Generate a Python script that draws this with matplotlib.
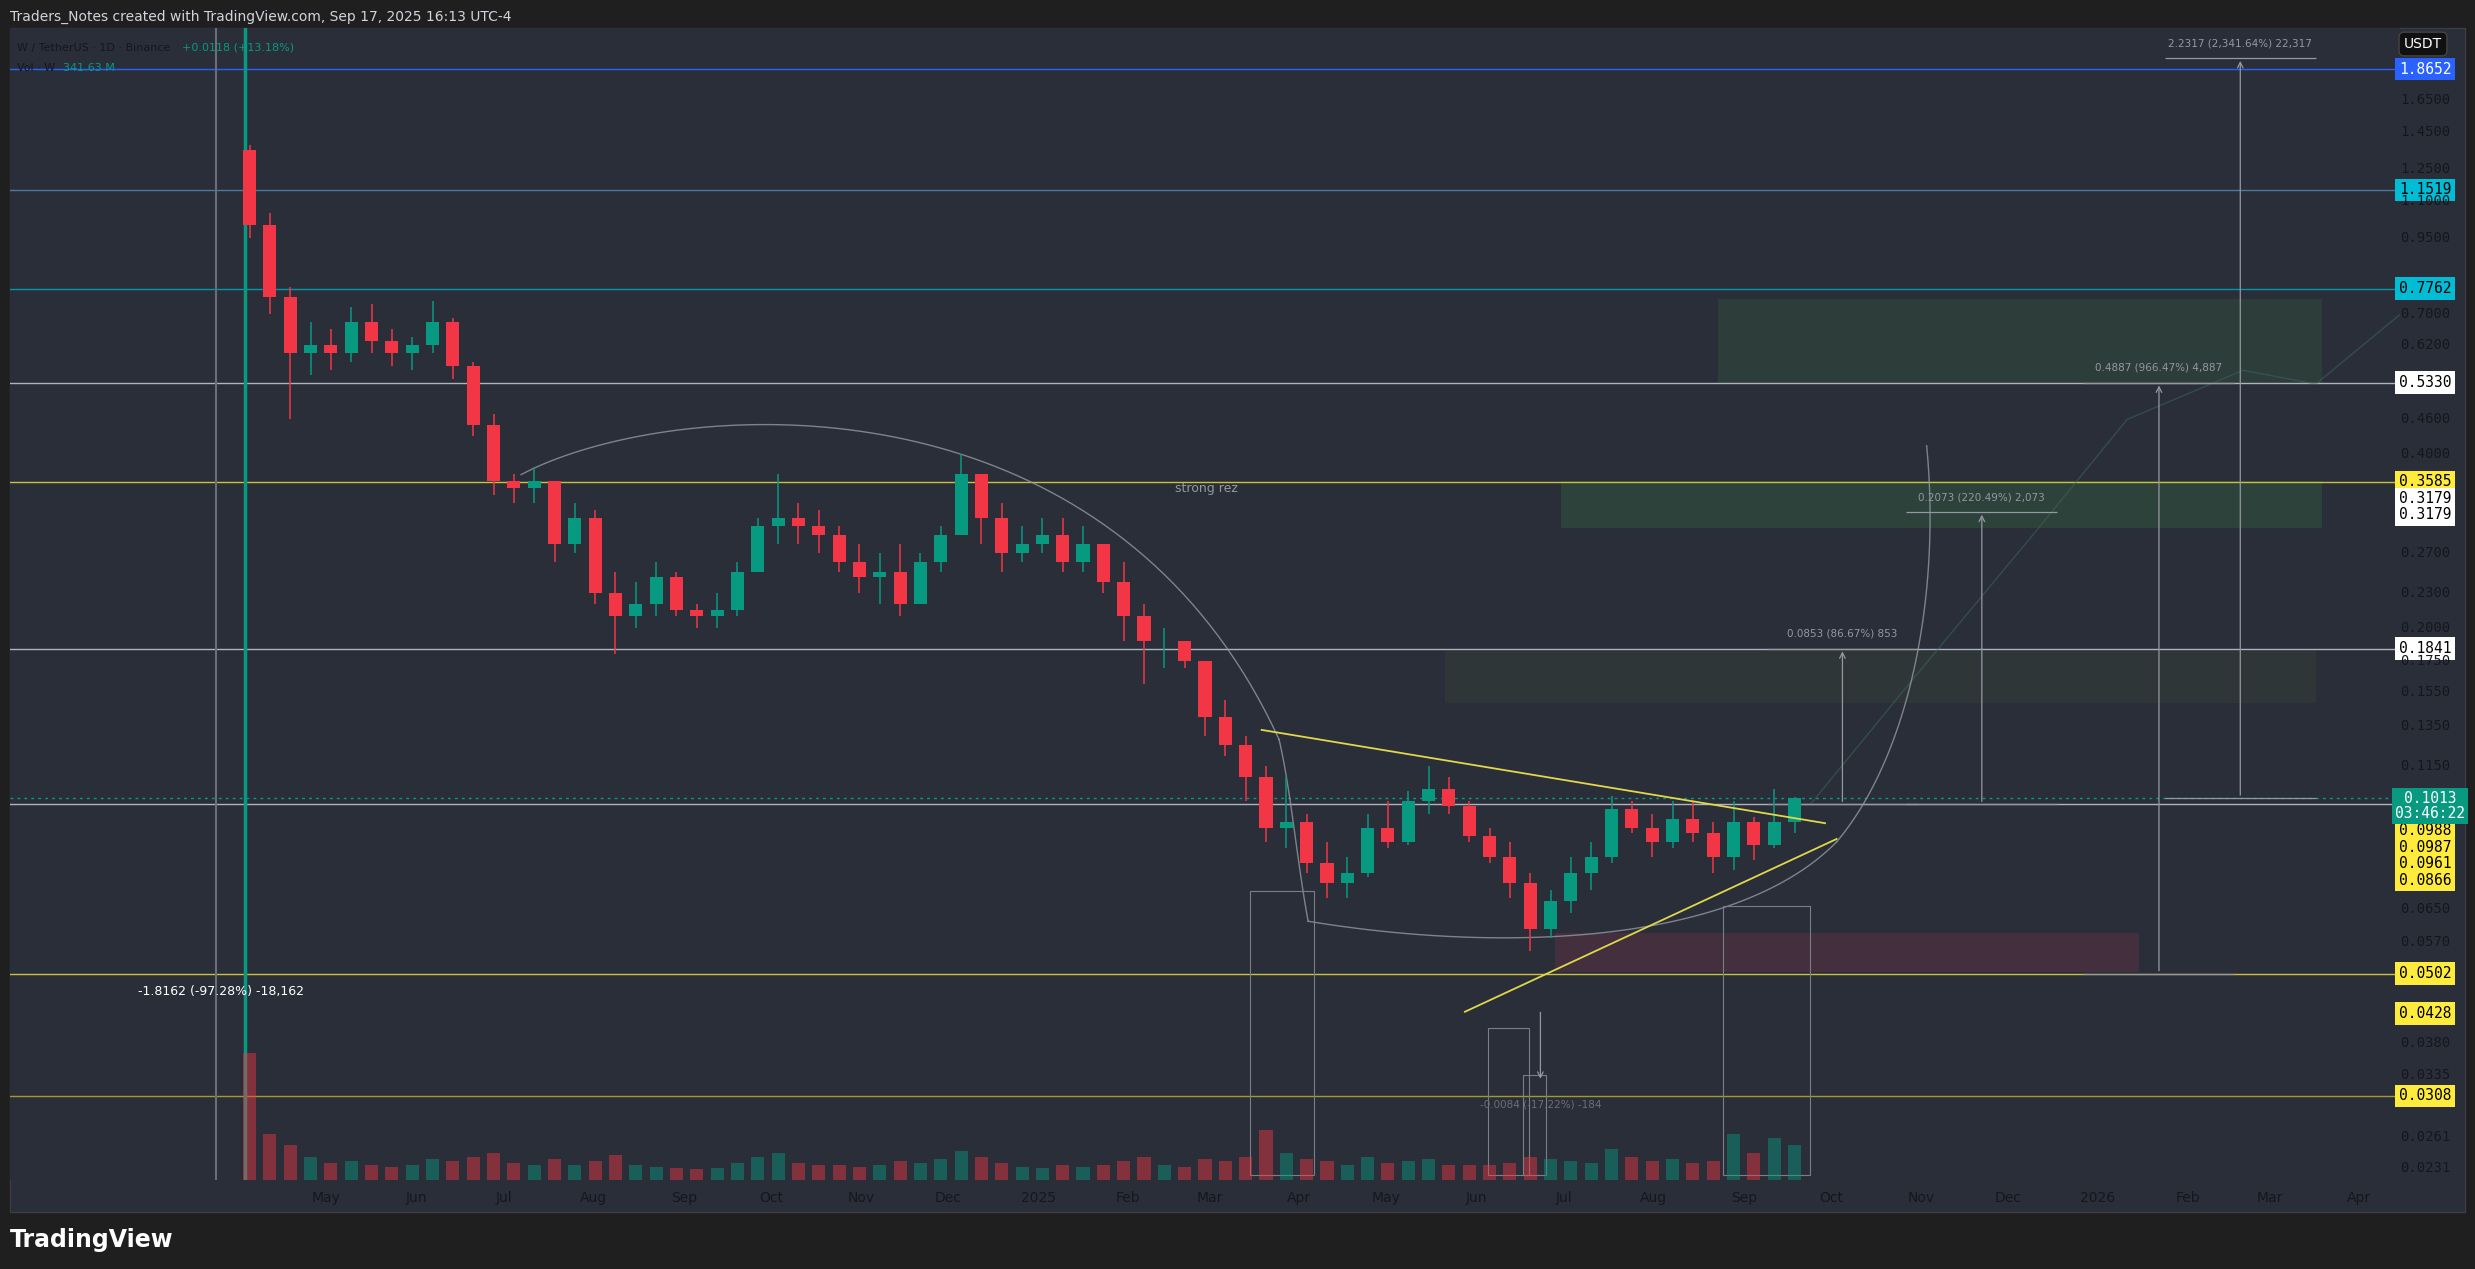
import numpy as np
import pandas as pd
import matplotlib
matplotlib.use("Agg")
import matplotlib.pyplot as plt
from matplotlib.patches import Rectangle

# weekly candles, weeks starting Mon 2024-04-01 (day 0)
w_high = [1.38, 1.05, 0.78, 0.68, 0.66, 0.72, 0.73, 0.66, 0.64, 0.74, 0.69, 0.58, 0.47, 0.37, 0.38,
          0.36, 0.33, 0.32, 0.25, 0.24, 0.26, 0.25, 0.22, 0.23, 0.26, 0.31, 0.37, 0.33, 0.32, 0.30,
          0.28, 0.27, 0.28, 0.27, 0.30, 0.40, 0.37, 0.33, 0.30, 0.31, 0.31, 0.30, 0.28, 0.26, 0.22,
          0.20, 0.19, 0.175, 0.15, 0.13, 0.115, 0.11, 0.095, 0.085, 0.08, 0.095, 0.10, 0.104, 0.115,
          0.11, 0.10, 0.09, 0.085, 0.075, 0.07, 0.08, 0.085, 0.102, 0.10, 0.095, 0.10, 0.10, 0.092,
          0.10, 0.094, 0.105, 0.1018]
w_low = [0.95, 0.70, 0.46, 0.55, 0.56, 0.58, 0.60, 0.57, 0.56, 0.60, 0.54, 0.43, 0.34, 0.33, 0.33,
         0.26, 0.27, 0.22, 0.18, 0.20, 0.21, 0.21, 0.20, 0.20, 0.21, 0.25, 0.28, 0.28, 0.27, 0.25,
         0.23, 0.22, 0.21, 0.22, 0.25, 0.29, 0.28, 0.25, 0.26, 0.27, 0.25, 0.25, 0.23, 0.19, 0.16,
         0.17, 0.17, 0.13, 0.12, 0.10, 0.085, 0.083, 0.075, 0.068, 0.068, 0.074, 0.083, 0.084, 0.095,
         0.095, 0.085, 0.078, 0.068, 0.055, 0.058, 0.064, 0.070, 0.078, 0.088, 0.08, 0.083, 0.085, 0.075,
         0.076, 0.079, 0.083, 0.088]
w_close = [1.00, 0.75, 0.60, 0.62, 0.60, 0.68, 0.63, 0.60, 0.62, 0.68, 0.57, 0.45, 0.36, 0.35, 0.36,
           0.28, 0.31, 0.23, 0.21, 0.22, 0.245, 0.215, 0.21, 0.215, 0.25, 0.30, 0.31, 0.30, 0.29, 0.26,
           0.245, 0.25, 0.22, 0.26, 0.29, 0.37, 0.31, 0.27, 0.28, 0.29, 0.26, 0.28, 0.24, 0.21, 0.19,
           0.19, 0.175, 0.14, 0.125, 0.11, 0.09, 0.092, 0.078, 0.072, 0.075, 0.09, 0.085, 0.10, 0.105,
           0.098, 0.087, 0.08, 0.072, 0.06, 0.067, 0.075, 0.08, 0.097, 0.09, 0.085, 0.093, 0.088, 0.08,
           0.092, 0.084, 0.092, 0.1013]
first_open = 1.35
w_vol = [330, 120, 90, 60, 45, 50, 40, 35, 38, 55, 50, 60, 70, 45, 40, 55, 40, 50, 65, 40, 35, 30,
         28, 30, 45, 60, 70, 45, 40, 38, 35, 40, 50, 45, 55, 75, 60, 45, 35, 30, 40, 35, 38, 50, 60,
         40, 35, 55, 50, 60, 130, 70, 55, 50, 40, 60, 45, 50, 55, 40, 38, 40, 45, 60, 55, 50, 45, 80,
         60, 50, 55, 45, 50, 120, 70, 110, 90]

# horizontal levels (price, line colour, label bg, label fg)
levels = [(1.8652, "#2962ff", "#2962ff", "white"),
          (1.1519, "#4a7a9a", "#00bcd4", "black"),
          (0.7762, "#0097a7", "#00bcd4", "black"),
          (0.5330, "#b0b3bd", "white", "black"),
          (0.3585, "#c9c23a", "#ffeb3b", "black"),
          (0.1841, "#b0b3bd", "white", "black"),
          (0.0502, "#c9c23a", "#ffeb3b", "black"),
          (0.0428, None, "#ffeb3b", "black"),
          (0.0308, "#a39a2a", "#ffeb3b", "black")]
# stacked labels: (text, anchor price, pixel offset below anchor, bg)
stacked = [("0.3179", 0.3585, 17, "white"), ("0.3179", 0.3585, 33, "white"),
           ("0.0988", 0.1013, 32, "#ffeb3b"), ("0.0987", 0.1013, 49, "#ffeb3b"),
           ("0.0961", 0.1013, 65, "#ffeb3b"), ("0.0866", 0.1013, 82, "#ffeb3b")]
level_0988 = 0.0988
axis_ticks = [1.65, 1.45, 1.25, 1.10, 0.95, 0.70, 0.62, 0.46, 0.40, 0.27, 0.23, 0.20, 0.175,
              0.155, 0.135, 0.115, 0.065, 0.057, 0.038, 0.0335, 0.0261, 0.0231]
last_price = 0.1013

BG = "#2a2e39"
UP, DN = "#089981", "#f23645"
PX = 72 / 100  # points per pixel

fig = plt.figure(figsize=(24.75, 12.69), dpi=100, facecolor="#1f1f1f")
fig.patches.append(Rectangle((10 / 2475, 1 - 1212 / 1269), 2455 / 2475, 1184 / 1269,
                             transform=fig.transFigure, facecolor=BG, edgecolor="#3a3d45", zorder=-1))
ax = fig.add_axes([10 / 2475, 1 - 1180 / 1269, 2390 / 2475, 1152 / 1269])
ax.set_facecolor(BG)
ax.set_yscale("log")
ax.set_ylim(0.0220, 2.20)
ax.set_xlim(-79, 744)
for s in ax.spines.values():
    s.set_visible(False)

# volume
vax = fig.add_axes(ax.get_position(), sharex=ax)
vax.patch.set_alpha(0)
vax.axis("off")
days = np.arange(len(w_close)) * 7 + 3.5
vax.set_ylim(0, max(w_vol) / 0.11)
opens = [first_open] + w_close[:-1]
vcols = [UP if c >= o else DN for o, c in zip(opens, w_close)]
vax.bar(days, w_vol, width=4.5, color=vcols, alpha=0.45)

# candles
for d, o, h, l, c, col in zip(days, opens, w_high, w_low, w_close, vcols):
    ax.vlines(d, l, h, color=col, lw=1.1, zorder=4)
    ax.bar(d, max(c, o) - min(c, o), bottom=min(c, o), width=4.5, color=col, zorder=5)

# levels
tr = ax.get_yaxis_transform()
lab = dict(ha="center", va="center", fontsize=10.5, family="DejaVu Sans Mono", annotation_clip=False)
for p, lc, bg, fg in levels:
    if lc:
        ax.axhline(p, color=lc, lw=1, zorder=2)
    ax.annotate(f"{p:.4f}", (1.0105, p), xycoords=tr, color=fg,
                bbox=dict(boxstyle="square,pad=0.25", fc=bg, ec="none"), **lab)
ax.axhline(level_0988, color="#b0b3bd", lw=1, zorder=2)
for txt, p, off, bg in stacked:
    ax.annotate(txt, (1.0105, p), xycoords=tr, xytext=(0, -off * PX), textcoords="offset points",
                color="black", bbox=dict(boxstyle="square,pad=0.25", fc=bg, ec="none"), **lab)
ax.axhline(last_price, color=UP, lw=1, ls=(0, (2, 3)), zorder=2)
ax.annotate(f"{last_price:.4f}\n03:46:22", (1.0125, last_price), xycoords=tr, xytext=(0, -8 * PX),
            textcoords="offset points", color="white", linespacing=0.95,
            bbox=dict(boxstyle="square,pad=0.2", fc=UP, ec="none"), **lab)
for t in axis_ticks:
    ax.text(1.0105, t, f"{t:.4f}", transform=tr, ha="center", va="center", fontsize=10,
            color="#15171d", family="DejaVu Sans Mono", clip_on=False)
fig.text(2423 / 2475, 1 - 44 / 1269, "USDT", ha="center", va="center", fontsize=10,
         color="white", bbox=dict(boxstyle="round,pad=0.35", fc="#111111", ec="#444"))
ax.yaxis.set_visible(False)

# vertical lines at listing
ax.axvline(-8, color="#6b6e78", lw=1.5, zorder=3)
ax.axvline(2, color=UP, lw=2.5, zorder=3)

# triangle
ax.plot([352, 546], [0.133, 0.0916], color="#e0d84a", lw=1.3, zorder=6)
ax.plot([422, 550], [0.0431, 0.086], color="#e0d84a", lw=1.3, zorder=6)

# arcs (cubic beziers in day / log-price space)
def bezier(pts, n=80):
    t = np.linspace(0, 1, n)[:, None]
    P = np.array([[x, np.log(y)] for x, y in pts])
    b = ((1 - t) ** 3) * P[0] + 3 * ((1 - t) ** 2) * t * P[1] + 3 * (1 - t) * t ** 2 * P[2] + t ** 3 * P[3]
    return b[:, 0], np.exp(b[:, 1])

for seg in ([(97, 0.369), (146, 0.50), (298, 0.586), (358, 0.128)],
            [(358, 0.128), (362, 0.105), (364, 0.08), (368, 0.0619)],
            [(368, 0.0619), (434, 0.0545), (515, 0.0562), (550, 0.085)],
            [(550, 0.085), (575, 0.120), (586, 0.227), (581, 0.414)]):
    xs, ys = bezier(seg)
    ax.plot(xs, ys, color="#9598a1", lw=1, alpha=0.8, zorder=3)

# zones
ax.add_patch(Rectangle((509, 0.533), 208, 0.746 - 0.533, fc="#2f4a3c", alpha=0.55, zorder=1))
ax.add_patch(Rectangle((455, 0.298), 262, 0.360 - 0.298, fc="#2f4a3c", alpha=0.75, zorder=1))
ax.add_patch(Rectangle((415, 0.148), 300, 0.182 - 0.148, fc="#303a38", alpha=0.7, zorder=1))
ax.add_patch(Rectangle((453, 0.0505), 201, 0.059 - 0.0505, fc="#4a3040", alpha=0.8, zorder=1))
for x0, x1, top in [(348, 370, 0.0698), (430, 444, 0.0404), (442, 450, 0.0335), (511, 541, 0.0659)]:
    ax.add_patch(Rectangle((x0, 0.0224), x1 - x0, top - 0.0224, fc="none", ec="#7b7e86", lw=0.8, zorder=3))

# projection
ax.plot([541, 575, 620, 650, 690, 715, 744], [0.0988, 0.16, 0.30, 0.46, 0.56, 0.53, 0.70],
        color="#3f6a5c", lw=1, alpha=0.5, zorder=2)

# measures
meas = [(552, 0.0988, 0.1841, "0.0853 (86.67%) 853"), (600, 0.0988, 0.3179, "0.2073 (220.49%) 2,073"),
        (661, 0.0502, 0.5330, "0.4887 (966.47%) 4,887"), (689, 0.1013, 1.95, "2.2317 (2,341.64%) 22,317")]
for x, lo, hi, txt in meas:
    ax.annotate("", (x, hi), (x, lo), arrowprops=dict(arrowstyle="->", color="#9598a1", lw=0.9))
    ax.hlines([lo, hi], x - 26, x + 26, color="#9598a1", lw=0.9)
    ax.text(x, hi * 1.04, txt, color="#9598a1", fontsize=7.5, ha="center", va="bottom")
ax.annotate("", (448, 0.0326), (448, 0.0435), arrowprops=dict(arrowstyle="->", color="#9598a1", lw=0.9))
ax.text(448, 0.0294, "-0.0084 (-17.22%) -184", color="#6b6e78", fontsize=7.5, ha="center")
ax.text(-35, 0.0468, "-1.8162 (-97.28%) -18,162", color="white", fontsize=9, ha="left", va="center")
ax.text(333, 0.344, "strong rez", color="#9598a1", fontsize=9, ha="center")

# dates
ticks = pd.date_range("2024-05-01", "2026-04-01", freq="MS")
tpos = (ticks - pd.Timestamp("2024-04-01")).days
tlab = [str(t.year) if t.month == 1 else t.strftime("%b") for t in ticks]
ax.set_xticks(tpos)
ax.set_xticklabels(tlab, color="#15171d", fontsize=10)
ax.tick_params(axis="x", length=0, pad=8)

# header / legend
fig.text(10 / 2475, 1 - 17 / 1269, "Traders_Notes created with TradingView.com, Sep 17, 2025 16:13 UTC-4",
         color="#d1d4dc", fontsize=10, va="center")
fig.text(17 / 2475, 1 - 48 / 1269, "W / TetherUS · 1D · Binance", color="#15171d", fontsize=8, va="center")
fig.text(182 / 2475, 1 - 48 / 1269, "+0.0118 (+13.18%)", color=UP, fontsize=8, va="center")
fig.text(17 / 2475, 1 - 68 / 1269, "Vol · W", color="#15171d", fontsize=8, va="center")
fig.text(63 / 2475, 1 - 68 / 1269, "341.63 M", color=UP, fontsize=8, va="center")
fig.text(10 / 2475, 1 - 1240 / 1269, "TradingView", color="white", fontsize=17, fontweight="bold", va="center")

fig.savefig("out.png", dpi=100, facecolor=fig.get_facecolor())
